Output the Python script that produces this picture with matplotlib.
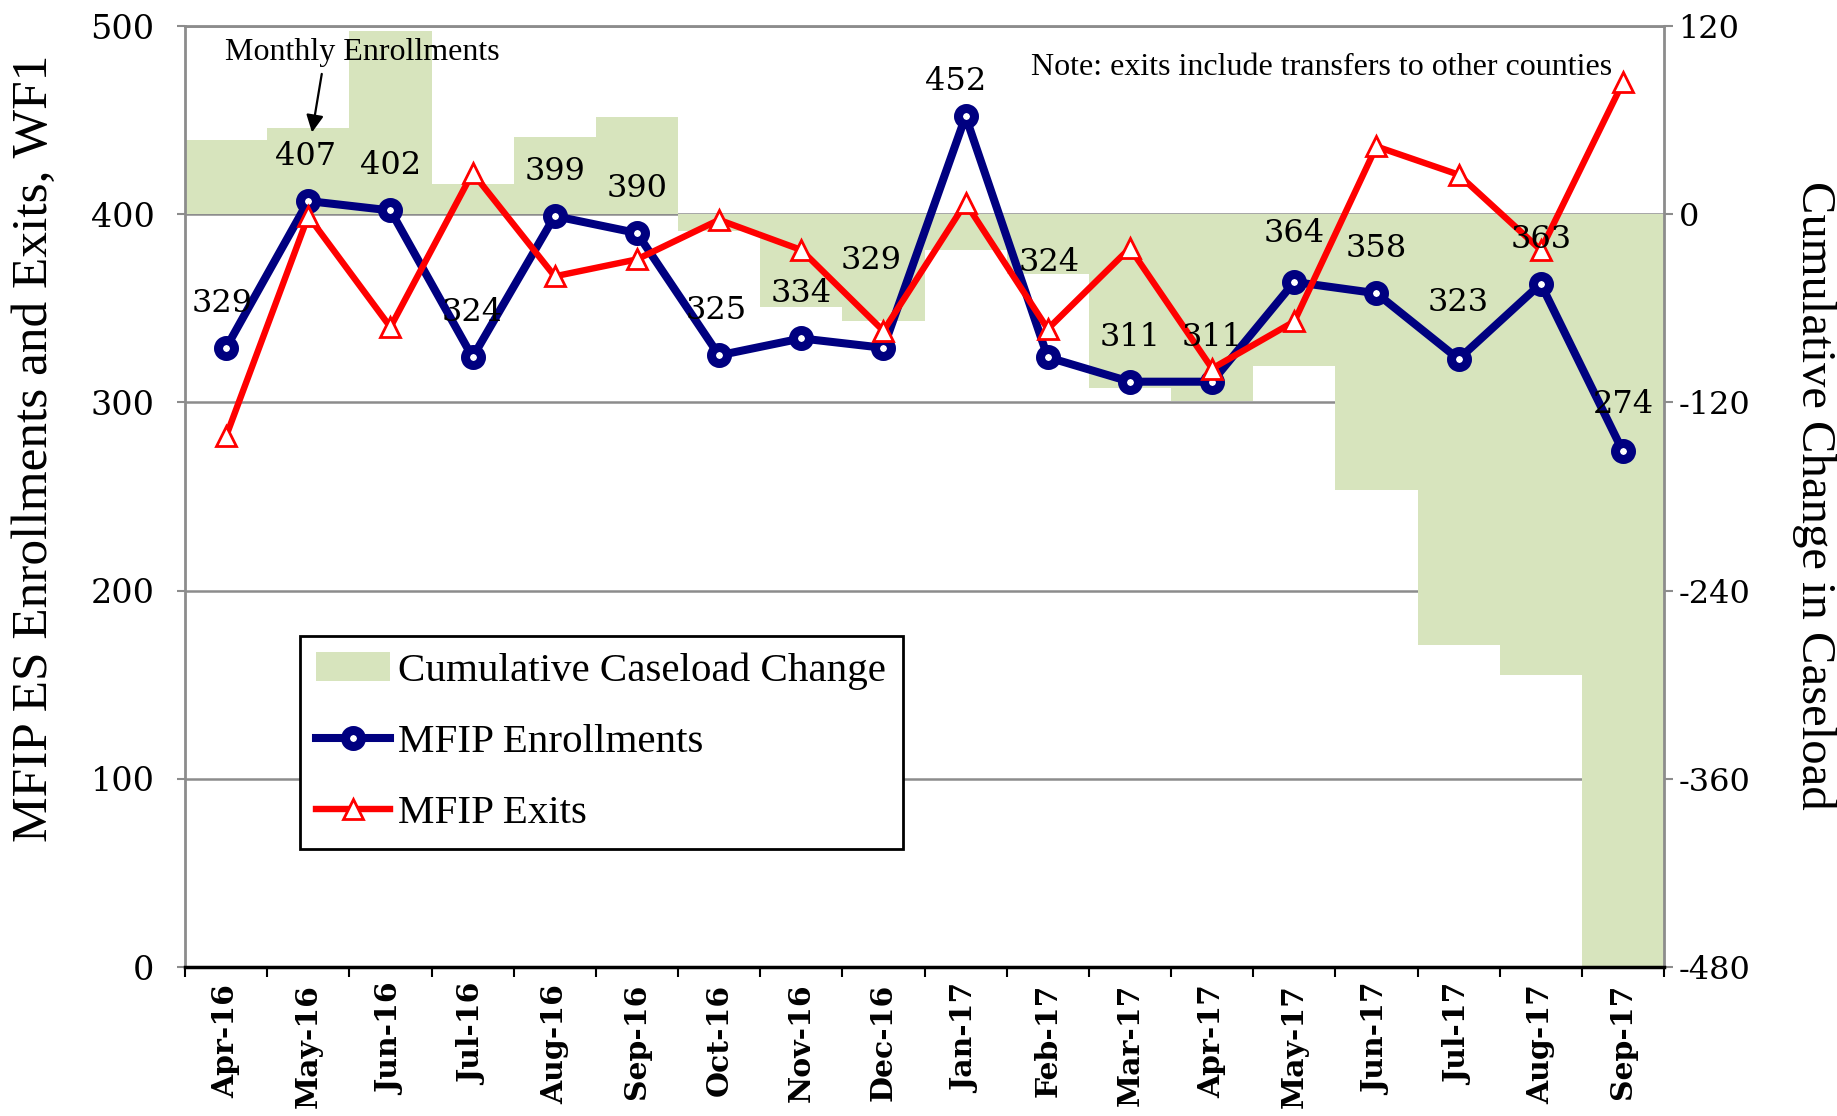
#!/usr/bin/env python3
"""
MFIP ES enrollments and exits with cumulative caseload change, WF1.
"""

import numpy as np
import matplotlib
matplotlib.use('Agg')
import matplotlib.pyplot as plt
from matplotlib.font_manager import FontProperties

plt.rcParams['axes.unicode_minus'] = False

# Data
months = ['Apr-16', 'May-16', 'Jun-16', 'Jul-16', 'Aug-16', 'Sep-16', 'Oct-16', 'Nov-16', 'Dec-16',
          'Jan-17', 'Feb-17', 'Mar-17', 'Apr-17', 'May-17', 'Jun-17', 'Jul-17', 'Aug-17', 'Sep-17']
enrollments = [329, 407, 402, 324, 399, 390, 325, 334, 329, 452, 324, 311, 311, 364, 358, 323, 363, 274]
exits = [282, 399, 340, 422, 367, 376, 397, 381, 338, 406, 339, 382, 318, 343, 436, 421, 381, 470]
cum_change = [47, 55, 117, 19, 49, 62, -11, -59, -68, -23, -38, -111, -119, -97, -176, -275, -294, -488]

# label offsets (points) for the enrollment values
label_dy = [32, 32, 32, 32, 32, 32, 32, 32, 63, 25, 68, 32, 32, 35, 32, 41, 32, 34]
label_dx = [-3, -2, 0, 0, 0, 0, -2, 0, -9, -7, 1, 0, 0, 0, 0, 0, 0, 0]

SERIF = 'Liberation Serif'
NUM = 'DejaVu Serif'
GRID = '#8c8c8c'
GREEN = '#D7E4BD'

fig = plt.figure(figsize=(18.37, 11.16), dpi=100)
fig.patch.set_facecolor('white')
ax = fig.add_axes([0.10071, 0.13351, 0.80512, 0.84319])
ax2 = ax.twinx()

x = np.arange(len(months))

# Bars on the right axis (behind everything)
bars = ax2.bar(x, cum_change, width=1.0, color=GREEN, zorder=2, label='Cumulative Caseload Change')
ax2.set_ylim(-480, 120)
ax2.set_yticks(np.arange(-480, 121, 120))
ax2.yaxis.grid(True, color=GRID, lw=1.8, zorder=0)
ax2.set_axisbelow(True)
ax2.tick_params(axis='y', direction='out', length=6.5, width=1.5, color=GRID,
                labelsize=23, pad=4)
for lab in ax2.get_yticklabels():
    lab.set_fontfamily(NUM)
for s in ['left', 'top', 'bottom']:
    ax2.spines[s].set_visible(False)
ax2.spines['right'].set_color(GRID)
ax2.spines['right'].set_linewidth(2)

# Lines on the left axis, drawn on top
ax.set_zorder(ax2.get_zorder() + 1)
ax.patch.set_visible(False)

l1, = ax.plot(x, enrollments, color='#000080', lw=5.8, marker='o', ms=11.5, mfc='white',
              mec='#000080', mew=6.5, zorder=3, label='MFIP Enrollments')
l2, = ax.plot(x, exits, color='#FF0000', lw=4.6, marker='^', ms=15, mfc='white',
              mec='#FF0000', mew=2, zorder=4, label='MFIP Exits')

for i, v in enumerate(enrollments):
    ax.annotate(str(v), (i, v), xytext=(label_dx[i], label_dy[i]), textcoords='offset points',
                ha='center', va='center', fontsize=23, family=NUM, zorder=6)

ax.set_xlim(-0.5, len(months) - 0.5)
ax.set_ylim(0, 500)
ax.set_yticks(np.arange(0, 501, 100))
ax.tick_params(axis='y', direction='out', length=6, width=1.5, color=GRID, labelsize=24, pad=16)
for lab in ax.get_yticklabels():
    lab.set_fontfamily(NUM)

ax.set_xticks(np.arange(-0.5, len(months), 1.0))
ax.set_xticklabels([])
ax.set_xticks(x, minor=True)
ax.set_xticklabels(months, minor=True, rotation=90, fontsize=21.5, fontweight='bold', family=NUM)
ax.tick_params(axis='x', which='major', direction='out', length=7, width=1.5, color='black')
ax.tick_params(axis='x', which='minor', length=0, pad=12)

ax.spines['left'].set_color(GRID)
ax.spines['left'].set_linewidth(2)
ax.spines['top'].set_color(GRID)
ax.spines['top'].set_linewidth(2)
ax.spines['bottom'].set_color('black')
ax.spines['bottom'].set_linewidth(2.5)
ax.spines['right'].set_visible(False)

# Axis titles
fig.text(0.019, 0.598, 'MFIP ES Enrollments and Exits, WF1', rotation=90, ha='center', va='center',
         fontsize=37, family=SERIF)
fig.text(0.9875, 0.5565, 'Cumulative Change in Caseload', rotation=270, ha='center', va='center',
         fontsize=35, family=SERIF)

# Annotations
ax.text(1.661, 485.8, 'Monthly Enrollments', ha='center', va='center', fontsize=23, family=SERIF)
ax.annotate('', xy=(1.04, 442), xytext=(1.17, 476),
            arrowprops=dict(arrowstyle='-|>', color='black', lw=1.6, mutation_scale=26))
ax.text(16.87, 478, 'Note: exits include transfers to other counties', ha='right', va='center',
        fontsize=23, family=SERIF)

# Legend
leg = ax.legend([bars, l1, l2], ['Cumulative Caseload Change', 'MFIP Enrollments', 'MFIP Exits'],
                loc='upper left', bbox_to_anchor=(0.0778, 0.352), frameon=True, fancybox=False,
                edgecolor='black', framealpha=1, prop=FontProperties(family=SERIF, size=29.5),
                handlelength=1.8, handletextpad=0.2, labelspacing=0.82, borderpad=0.4,
                borderaxespad=0)
leg.get_frame().set_linewidth(2)
leg.set_zorder(10)

plt.savefig('out.png', dpi=100, facecolor='white')
